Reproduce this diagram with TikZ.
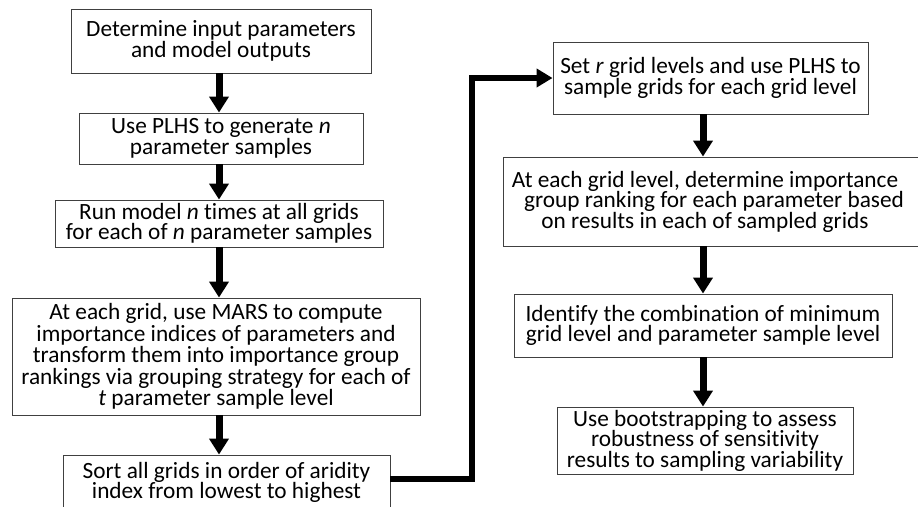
\documentclass[tikz,border=0pt]{standalone}
\usepackage{fontspec}
\setmainfont{Carlito}[Ligatures=NoCommon]
\usetikzlibrary{arrows.meta,calc}

\tikzset{
  stepbox/.style={draw=black!75, line width=0.9pt, rectangle, inner sep=0pt,
    align=center, font=\fontsize{23.3}{20.5}\selectfont, text=black},
  flow/.style={line width=7pt, -{Triangle[length=16pt,width=19pt]}},
  jump/.style={line width=5.5pt, -{Triangle[length=16pt,width=18pt]}}
}

\begin{document}
\begin{tikzpicture}[x=1pt, y=-1pt]
\useasboundingbox (0,0) rectangle (918,506);
\clip (0,0) rectangle (918,506);
\fill[white] (0,0) rectangle (918,506);

% left column
\node[stepbox, minimum width=300pt, minimum height=64pt] (b1) at (221,41)
  {Determine input parameters\\and model outputs};
\node[stepbox, minimum width=284pt, minimum height=51pt] (b2) at (221,138.5)
  {Use PLHS to generate \textit{n}\\parameter samples};
\node[stepbox, minimum width=328pt, minimum height=47pt] (b3) at (219,223.5)
  {Run model \textit{n} times at all grids\\for each of \textit{n} parameter samples};
\node[stepbox, minimum width=408pt, minimum height=117pt,
  font=\fontsize{23.3}{21.5}\selectfont] (b4) at (216,356.5)
  {At each grid, use MARS to compute\\importance indices of parameters and\\transform them into importance group\\rankings via grouping strategy for each of\\\textit{t} parameter sample level};
\node[stepbox, minimum width=327pt, minimum height=55pt] (b5) at (226.5,482.5)
  {Sort all grids in order of aridity\\index from lowest to highest};

% right column
\node[stepbox, minimum width=315pt, minimum height=72pt] (b6) at (710.5,78)
  {Set \textit{r} grid levels and use PLHS to\\sample grids for each grid level};
\node[stepbox, minimum width=422pt, minimum height=89pt] (b7) at (714,201.5)
  {At each grid level, determine importance\hspace*{18pt}\\group ranking for each parameter based\hspace*{18pt}\\on results in each of sampled grids\hspace*{18pt}};
\node[stepbox, minimum width=378pt, minimum height=63pt] (b8) at (703,325.5)
  {Identify the combination of minimum\\grid level and parameter sample level};
\node[stepbox, minimum width=296pt, minimum height=67pt] (b9) at (705,440.5)
  {Use bootstrapping to assess\\robustness of sensitivity\\results to sampling variability};

% arrows down the left column
\draw[flow] (b1.south -| b3.center) -- (b2.north -| b3.center);
\draw[flow] (b2.south -| b3.center) -- (b3.north);
\draw[flow] (b3.south) -- (b4.north -| b3.center);
\draw[flow] (b4.south -| b3.center) -- (b5.north -| b3.center);

% arrows down the right column
\draw[flow] (b6.south -| b8.center) -- (b7.north -| b8.center);
\draw[flow] (b7.south -| b8.center) -- (b8.north);
\draw[flow] (b8.south) -- (b9.north -| b8.center);

% link from the bottom of the left column to the top of the right one
\coordinate (bend) at (472,0);
\draw[jump] ([yshift=3.5pt]b5.east) -| (bend |- b6.west) -- (b6.west);
\end{tikzpicture}
\end{document}
